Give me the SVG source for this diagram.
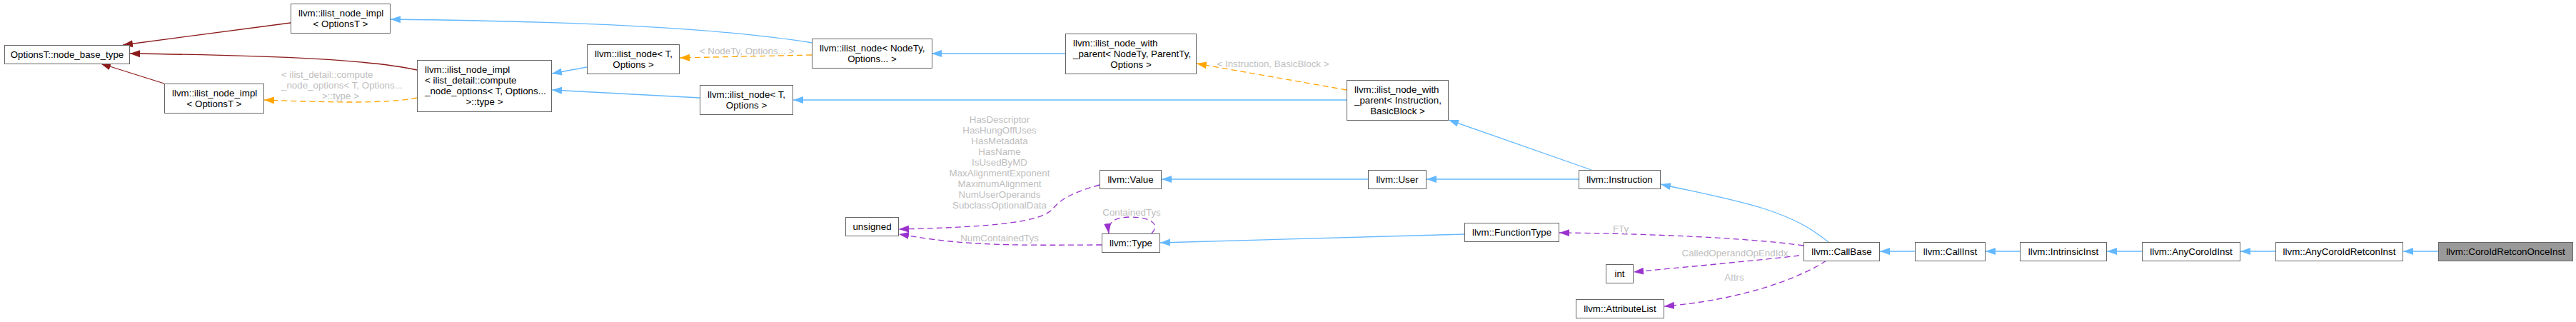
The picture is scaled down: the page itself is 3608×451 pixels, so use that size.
<svg xmlns="http://www.w3.org/2000/svg" width="3608" height="451" viewBox="0 0 3608 451">
<style>
.n rect{fill:#ffffff;stroke:#666666;stroke-width:1}
.n.hl rect{fill:#999999}
text{font-family:"Liberation Sans",Arial,Helvetica,sans-serif;font-size:13.33px;fill:#000000}
.c{text-anchor:middle}
.l{text-anchor:start}
.lbl{fill:#bebebe}
.e{fill:none;stroke-width:1.3}
.blue{stroke:#63b8ff;marker-end:url(#ab)}
.red{stroke:#8b1a1a;marker-end:url(#ar)}
.orange{stroke:#ffa500;stroke-dasharray:8,5;marker-end:url(#ao)}
.purple{stroke:#9a32cd;stroke-dasharray:8,5;marker-end:url(#ap)}
</style>
<defs>
<marker id="ab" markerUnits="userSpaceOnUse" markerWidth="15" markerHeight="12" viewBox="0 0 15 12" refX="14" refY="6" orient="auto"><path d="M0,1 L14,6 L0,11 z" fill="#63b8ff"/></marker>
<marker id="ar" markerUnits="userSpaceOnUse" markerWidth="15" markerHeight="12" viewBox="0 0 15 12" refX="14" refY="6" orient="auto"><path d="M0,1 L14,6 L0,11 z" fill="#8b1a1a"/></marker>
<marker id="ao" markerUnits="userSpaceOnUse" markerWidth="15" markerHeight="12" viewBox="0 0 15 12" refX="14" refY="6" orient="auto"><path d="M0,1 L14,6 L0,11 z" fill="#ffa500"/></marker>
<marker id="ap" markerUnits="userSpaceOnUse" markerWidth="15" markerHeight="12" viewBox="0 0 15 12" refX="14" refY="6" orient="auto"><path d="M0,1 L14,6 L0,11 z" fill="#9a32cd"/></marker>
</defs>
<rect x="0" y="0" width="3608" height="451" fill="#ffffff"/>

<g id="edges">
<path class="e red" d="M407,32 L172,63"/>
<path class="e red" d="M584,98 C520,84 400,78 182,75"/>
<path class="e red" d="M230,117 L141,89"/>
<path class="e orange" d="M584,137 C540,146 450,143 370,140"/>
<path class="e blue" d="M822,94 L773,103"/>
<path class="e blue" d="M980,137 L773,126"/>
<path class="e orange" d="M1137,77 L952,81"/>
<path class="e blue" d="M1138,60 C1000,38 800,30 547,27"/>
<path class="e blue" d="M1492,75 L1305,75"/>
<path class="e orange" d="M1886,126 L1676,89"/>
<path class="e blue" d="M1886,140 L1111,140"/>
<path class="e blue" d="M2229,238 L2029,168"/>
<path class="e blue" d="M2211,251 L1998,251"/>
<path class="e blue" d="M1916,251 L1627,251"/>
<path class="e purple" d="M1540,259 C1500,270 1485,280 1475,292 C1460,310 1400,318 1259,321"/>
<path class="e purple" d="M1543,343 C1480,343 1400,345 1330,338 C1300,335 1280,331 1259,328"/>
<path class="e purple" d="M1613,327 C1624,315 1615,304 1583,304 C1560,304 1551,312 1553,327"/>
<path class="e blue" d="M2051,328 L1625,340"/>
<path class="e purple" d="M2526,344 C2450,333 2300,327 2184,326"/>
<path class="e purple" d="M2520,358 C2450,366 2350,375 2288,381"/>
<path class="e purple" d="M2558,365 C2520,390 2440,420 2331,429"/>
<path class="e blue" d="M2561,339 C2535,318 2510,305 2470,292 C2420,277 2380,270 2326,258"/>
<path class="e blue" d="M2682,352 L2633,352"/>
<path class="e blue" d="M2829,352 L2781,352"/>
<path class="e blue" d="M3000,352 L2951,352"/>
<path class="e blue" d="M3187,352 L3138,352"/>
<path class="e blue" d="M3415,352 L3366,352"/>
<text class="lbl l" x="394" y="108.5">&lt; ilist_detail::compute</text>
<text class="lbl l" x="394" y="123.5">_node_options&lt; T, Options...</text>
<text class="lbl c" x="477" y="138.5">&gt;::type &gt;</text>
<text class="lbl c" x="1046" y="75.5">&lt; NodeTy, Options... &gt;</text>
<text class="lbl c" x="1783" y="93.5">&lt; Instruction, BasicBlock &gt;</text>
<text class="lbl c" x="1400" y="171.5">HasDescriptor</text>
<text class="lbl c" x="1400" y="186.5">HasHungOffUses</text>
<text class="lbl c" x="1400" y="201.5">HasMetadata</text>
<text class="lbl c" x="1400" y="216.5">HasName</text>
<text class="lbl c" x="1400" y="231.5">IsUsedByMD</text>
<text class="lbl c" x="1400" y="246.5">MaxAlignmentExponent</text>
<text class="lbl c" x="1400" y="261.5">MaximumAlignment</text>
<text class="lbl c" x="1400" y="276.5">NumUserOperands</text>
<text class="lbl c" x="1400" y="291.5">SubclassOptionalData</text>
<text class="lbl c" x="1400" y="337.5">NumContainedTys</text>
<text class="lbl c" x="1585" y="301.5">ContainedTys</text>
<text class="lbl c" x="2270" y="324.5">FTy</text>
<text class="lbl c" x="2430" y="358.5">CalledOperandOpEndIdx</text>
<text class="lbl c" x="2429" y="392.5">Attrs</text>
</g>

<g id="n1" class="n"><rect x="6.5" y="63.5" width="175" height="26"/><text class="c" x="94" y="81.2">OptionsT::node_base_type</text></g>
<g id="n2" class="n"><rect x="407.5" y="5.5" width="139" height="41"/><text class="l" x="418" y="23.2">llvm::ilist_node_impl</text><text class="c" x="477" y="38.2">&lt; OptionsT &gt;</text></g>
<g id="n3" class="n"><rect x="230.5" y="117.5" width="139" height="41"/><text class="l" x="241" y="135.2">llvm::ilist_node_impl</text><text class="c" x="300" y="150.2">&lt; OptionsT &gt;</text></g>
<g id="n4" class="n"><rect x="584.5" y="84.5" width="188" height="72"/><text class="l" x="595" y="102.2">llvm::ilist_node_impl</text><text class="l" x="595" y="117.2">&lt; ilist_detail::compute</text><text class="l" x="595" y="132.2">_node_options&lt; T, Options...</text><text class="c" x="678.5" y="147.2">&gt;::type &gt;</text></g>
<g id="n5" class="n"><rect x="822.5" y="62.5" width="129" height="41"/><text class="l" x="833" y="80.2">llvm::ilist_node&lt; T,</text><text class="c" x="887" y="95.2">Options &gt;</text></g>
<g id="n6" class="n"><rect x="980.5" y="119.5" width="130" height="41"/><text class="l" x="991" y="137.2">llvm::ilist_node&lt; T,</text><text class="c" x="1045.5" y="152.2">Options &gt;</text></g>
<g id="n7" class="n"><rect x="1137.5" y="54.5" width="168" height="41"/><text class="l" x="1148" y="72.2">llvm::ilist_node&lt; NodeTy,</text><text class="c" x="1221.5" y="87.2">Options... &gt;</text></g>
<g id="n8" class="n"><rect x="1492.5" y="47.5" width="183" height="56"/><text class="l" x="1503" y="65.2">llvm::ilist_node_with</text><text class="l" x="1503" y="80.2">_parent&lt; NodeTy, ParentTy,</text><text class="c" x="1584" y="95.2">Options &gt;</text></g>
<g id="n9" class="n"><rect x="1886.5" y="112.5" width="142" height="56"/><text class="l" x="1897" y="130.2">llvm::ilist_node_with</text><text class="l" x="1897" y="145.2">_parent&lt; Instruction,</text><text class="c" x="1957.5" y="160.2">BasicBlock &gt;</text></g>
<g id="n10" class="n"><rect x="2211.5" y="238.5" width="114" height="26"/><text class="c" x="2268.5" y="256.2">llvm::Instruction</text></g>
<g id="n11" class="n"><rect x="1916.5" y="238.5" width="81" height="26"/><text class="c" x="1957" y="256.2">llvm::User</text></g>
<g id="n12" class="n"><rect x="1540.5" y="238.5" width="86" height="26"/><text class="c" x="1583.5" y="256.2">llvm::Value</text></g>
<g id="n13" class="n"><rect x="1184.5" y="304.5" width="74" height="26"/><text class="c" x="1221.5" y="322.2">unsigned</text></g>
<g id="n14" class="n"><rect x="1543.5" y="327.5" width="81" height="26"/><text class="c" x="1584" y="345.2">llvm::Type</text></g>
<g id="n15" class="n"><rect x="2051.5" y="312.5" width="132" height="26"/><text class="c" x="2117.5" y="330.2">llvm::FunctionType</text></g>
<g id="n16" class="n"><rect x="2249.5" y="370.5" width="38" height="26"/><text class="c" x="2268.5" y="388.2">int</text></g>
<g id="n17" class="n"><rect x="2207.5" y="419.5" width="123" height="26"/><text class="c" x="2269" y="437.2">llvm::AttributeList</text></g>
<g id="n18" class="n"><rect x="2526.5" y="339.5" width="106" height="26"/><text class="c" x="2579.5" y="357.2">llvm::CallBase</text></g>
<g id="n19" class="n"><rect x="2682.5" y="339.5" width="98" height="26"/><text class="c" x="2731.5" y="357.2">llvm::CallInst</text></g>
<g id="n20" class="n"><rect x="2829.5" y="339.5" width="121" height="26"/><text class="c" x="2890" y="357.2">llvm::IntrinsicInst</text></g>
<g id="n21" class="n"><rect x="3000.5" y="339.5" width="137" height="26"/><text class="c" x="3069" y="357.2">llvm::AnyCoroIdInst</text></g>
<g id="n22" class="n"><rect x="3187.5" y="339.5" width="178" height="26"/><text class="c" x="3276.5" y="357.2">llvm::AnyCoroIdRetconInst</text></g>
<g id="n23" class="n hl"><rect x="3415.5" y="339.5" width="188" height="26"/><text class="c" x="3509.5" y="357.2">llvm::CoroIdRetconOnceInst</text></g>
</svg>
